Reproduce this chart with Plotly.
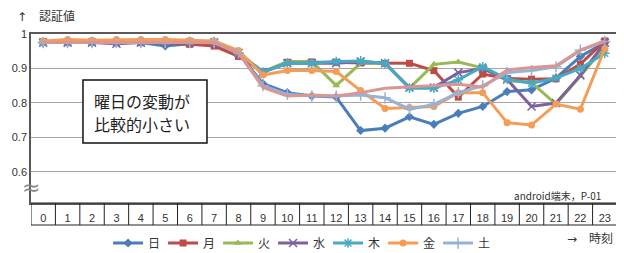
import plotly.graph_objects as go

hours = list(range(24))
hour_labels = [str(h) for h in hours]

sun = [0.975, 0.975, 0.975, 0.975, 0.975, 0.965, 0.972, 0.972, 0.945, 0.856, 0.83, 0.82, 0.817, 0.72, 0.727, 0.76, 0.738, 0.77, 0.79, 0.833, 0.838, 0.872, 0.935, 0.975]
mon = [0.978, 0.978, 0.978, 0.975, 0.975, 0.975, 0.97, 0.965, 0.935, 0.89, 0.918, 0.919, 0.918, 0.916, 0.915, 0.915, 0.894, 0.817, 0.884, 0.871, 0.869, 0.87, 0.913, 0.98]
tue = [0.975, 0.975, 0.978, 0.978, 0.978, 0.978, 0.978, 0.978, 0.945, 0.89, 0.92, 0.92, 0.851, 0.915, 0.915, 0.843, 0.912, 0.919, 0.902, 0.865, 0.859, 0.797, 0.878, 0.963]
wed = [0.975, 0.975, 0.975, 0.972, 0.975, 0.975, 0.975, 0.975, 0.945, 0.89, 0.915, 0.915, 0.915, 0.92, 0.915, 0.845, 0.845, 0.888, 0.9, 0.868, 0.79, 0.8, 0.88, 0.975]
thu = [0.975, 0.978, 0.978, 0.978, 0.978, 0.978, 0.978, 0.978, 0.945, 0.89, 0.915, 0.915, 0.92, 0.922, 0.915, 0.843, 0.843, 0.867, 0.905, 0.869, 0.857, 0.872, 0.9, 0.944]
fri = [0.98, 0.984, 0.982, 0.984, 0.984, 0.984, 0.982, 0.98, 0.952, 0.881, 0.894, 0.894, 0.891, 0.836, 0.784, 0.787, 0.79, 0.83, 0.83, 0.743, 0.736, 0.797, 0.782, 0.958]
sat = [0.975, 0.975, 0.975, 0.975, 0.975, 0.975, 0.975, 0.975, 0.945, 0.85, 0.825, 0.82, 0.82, 0.823, 0.815, 0.782, 0.796, 0.83, 0.85, 0.888, 0.894, 0.905, 0.953, 0.978]
avg = [0.975, 0.975, 0.975, 0.975, 0.975, 0.975, 0.975, 0.975, 0.945, 0.845, 0.82, 0.823, 0.82, 0.83, 0.843, 0.846, 0.85, 0.854, 0.846, 0.896, 0.903, 0.908, 0.953, 0.98]

names = ["日", "月", "火", "水", "木", "金", "土"]
colors = ["#4A7EBB", "#BE4B48", "#98B954", "#7D60A0", "#46AAC5", "#F59D56", "#95B3D7"]
symbols = ["diamond", "square", "triangle-up", "x-thin", "asterisk-open", "circle", "cross-thin"]
series = [sun, mon, tue, wed, thu, fri, sat]

y_ticks = [0.6, 0.7, 0.8, 0.9, 1.0]
y_ticktext = ["0.6", "0.7", "0.8", "0.9", "1"]

fig = go.Figure()
for name, vals, c, s in zip(names, series, colors, symbols):
    thin = s in ("x-thin", "cross-thin", "asterisk-open")
    fig.add_trace(go.Scatter(
        x=hours, y=vals, name=name, mode="lines+markers",
        line=dict(color=c, width=3),
        marker=dict(symbol=s, size=7 if not thin else 8, color=c,
                    line=dict(color=c, width=1.5 if thin else 0)),
    ))
fig.add_trace(go.Scatter(
    x=hours, y=avg, name="平均", mode="lines", showlegend=False,
    line=dict(color="#D99694", width=3),
))

FONT = "Noto Sans CJK JP, Liberation Sans, sans-serif"
ARROW = "<span style='font-family:DejaVu Sans'>{}</span>"
# page body has an 8px margin; figure is sized so the page is filled
W, H = 616, 245
L, R, T, B = 23, 7, 26, 50
plot_h = H - T - B
cell_h = 22 / plot_h

shapes = []
for i in range(25):
    shapes.append(dict(type="line", xref="x", yref="paper", x0=i - 0.5, x1=i - 0.5,
                       y0=0, y1=-cell_h, line=dict(color="#222", width=1)))
shapes.append(dict(type="line", xref="x", yref="paper", x0=-0.5, x1=23.5,
                   y0=-cell_h, y1=-cell_h, line=dict(color="#222", width=1)))
shapes.append(dict(type="line", xref="x", yref="paper", x0=-0.5, x1=23.5,
                   y0=0, y1=0, line=dict(color="#222", width=1)))
# callout box
shapes.append(dict(type="rect", xref="paper", yref="paper", x0=0.0887, x1=0.3003,
                   y0=0.355, y1=0.728, layer="above", fillcolor="white",
                   line=dict(color="#111", width=1.5)))

annotations = [
    dict(text=ARROW.format("↑") + "　認証値", xref="paper", yref="paper", x=-0.027, y=1.11,
         xanchor="left", yanchor="middle", showarrow=False,
         font=dict(size=12, color="#333", family=FONT)),
    dict(text=ARROW.format("→") + "　時刻", xref="paper", yref="paper", x=0.997, y=-0.207,
         xanchor="right", yanchor="middle", showarrow=False,
         font=dict(size=12, color="#333", family=FONT)),
    dict(text="android端末，P-01", xref="paper", yref="paper", x=0.976, y=0.042, xanchor="right",
         yanchor="middle", showarrow=False, font=dict(size=10, color="#333", family=FONT)),
    dict(text="曜日の変動が", xref="paper", yref="paper", x=0.104, y=0.6036,
         xanchor="left", yanchor="middle", showarrow=False,
         font=dict(size=16, color="#222", family=FONT)),
    dict(text="比較的小さい", xref="paper", yref="paper", x=0.104, y=0.4675,
         xanchor="left", yanchor="middle", showarrow=False,
         font=dict(size=16, color="#222", family=FONT)),
    dict(text="≈", xref="paper", yref="y", x=0.0, y=0.555, xanchor="center", yanchor="middle",
         showarrow=False, font=dict(size=22, color="#888", family="DejaVu Sans")),
]

fig.update_layout(
    width=W, height=H,
    margin=dict(l=L, r=R, t=T, b=B, autoexpand=False),
    paper_bgcolor="white", plot_bgcolor="white",
    font=dict(family=FONT, size=11, color="#333"),
    shapes=shapes, annotations=annotations,
    legend=dict(orientation="h", x=0.46, xanchor="center", y=-0.237, yanchor="middle",
                font=dict(size=12, family=FONT), itemwidth=30, entrywidth=10,
                entrywidthmode="pixels", tracegroupgap=0, bgcolor="rgba(0,0,0,0)"),
    xaxis=dict(range=[-0.5, 23.5], tickvals=hours, ticktext=hour_labels, showgrid=False,
               zeroline=False, showline=True, mirror=True, linecolor="#595959", linewidth=1.5,
               ticks="", tickfont=dict(size=11, family="Liberation Sans"),
               ticklabelstandoff=4, automargin=False),
    yaxis=dict(range=[0.51, 1.0], tickvals=y_ticks, ticktext=y_ticktext, showgrid=True,
               gridcolor="#A6A6A6", gridwidth=1, zeroline=False, showline=True,
               linecolor="#595959", linewidth=1.5, mirror=True, ticks="", automargin=False,
               tickfont=dict(size=11, family="Liberation Sans")),
)
fig.write_html("out.html")
